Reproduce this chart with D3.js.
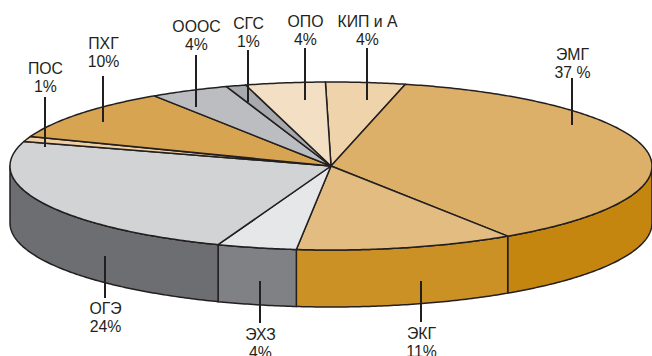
<!DOCTYPE html>
<html>
<head>
<meta charset="utf-8">
<script src="https://cdn.jsdelivr.net/npm/d3@7/dist/d3.min.js"></script>
<style>
html, body { margin: 0; padding: 0; background: #fff; overflow: hidden; }
svg { display: block; }
text { font-family: "Liberation Sans", Arial, sans-serif; font-size: 15.8px; fill: #231f20; text-anchor: middle; }
</style>
</head>
<body>
<svg id="chart" width="652" height="356"></svg>
<script>
// Staff shares by department, clockwise from the top of the disc
const departments = ["КИП и А", "ЭМГ", "ЭКГ", "ЭХЗ", "ОГЭ", "ПОС", "ПХГ", "ОООС", "СГС", "ОПО"];
const shares = [4, 37, 11, 4, 24, 1, 10, 4, 1, 4];
const shareLabels = ["4%", "37 %", "11%", "4%", "24%", "1%", "10%", "4%", "1%", "4%"];

// Fill colours for the top face and the outer wall of each slice
const topColors = ["#efd3ab", "#dcb069", "#e2bc80", "#e6e7e9", "#d1d3d4", "#f0cfa0", "#d7a452", "#bbbdc0", "#a7a9ac", "#f3e0c4"];
const wallColors = ["#c5860f", "#c5860f", "#cb9125", "#808184", "#6d6e71", "#6d6e71", "#6d6e71", "#6d6e71", "#6d6e71", "#6d6e71"];

// Callout placement: leader x, leader top and bottom, first text baseline
const calloutX = [367, 572, 421, 260, 105, 45, 103, 196, 248, 305];
const leaderTop = [48, 78, 281, 281, 256, 97, 76, 55, 50, 48];
const leaderBottom = [100, 125, 322, 323, 298, 147, 122, 107, 102, 100];
const nameBaseline = [27, 60, 339, 340, 314, 74, 49, 32, 29, 27];

const ink = "#231f20";
const svg = d3.select("#chart");

// The disc is a circle seen at a tilt: unit coordinates map onto an ellipse
const x = d3.scaleLinear().domain([-1, 1]).range([10, 652]);
const y = d3.scaleLinear().domain([-1, 1]).range([82, 250]);
const depth = 57;

const startAngle = -Math.PI / 180;
const pie = d3.pie().sort(null).startAngle(startAngle).endAngle(startAngle + 2 * Math.PI);
const slices = pie(shares);

const rim = d3.line()
  .x(a => x(Math.sin(a)))
  .y(a => y(-Math.cos(a)));

const lowerRim = d3.line()
  .x(a => x(Math.sin(a)))
  .y(a => y(-Math.cos(a)) + depth);

// Angles from a to b, sampled finely enough to read as a smooth curve
const sweep = (a, b) => {
  const n = Math.max(2, Math.ceil(Math.abs(b - a) / 0.01));
  return d3.range(n + 1).map(i => a + (b - a) * i / n);
};

// Outer wall: only the front half of the rim faces the viewer
const front = slices
  .map((s, i) => ({
    i,
    a: Math.max(s.startAngle, Math.PI / 2),
    b: Math.min(s.endAngle, 3 * Math.PI / 2)
  }))
  .filter(d => d.b > d.a);

svg.append("g").selectAll("path").data(front).join("path")
  .attr("d", d => rim(sweep(d.a, d.b)) + "L" + lowerRim(sweep(d.b, d.a)).slice(1) + "Z")
  .attr("fill", d => wallColors[d.i])
  .attr("stroke", ink)
  .attr("stroke-width", 1.5)
  .attr("stroke-linejoin", "round");

// Top face
svg.append("g").selectAll("path").data(slices).join("path")
  .attr("d", s => "M" + x(0) + "," + y(0) + "L" + rim(sweep(s.startAngle, s.endAngle)).slice(1) + "Z")
  .attr("fill", (s, i) => topColors[i])
  .attr("stroke", ink)
  .attr("stroke-width", 1.5)
  .attr("stroke-linejoin", "round");

// Leaders
svg.append("g").selectAll("line").data(departments).join("line")
  .attr("x1", (d, i) => calloutX[i])
  .attr("x2", (d, i) => calloutX[i])
  .attr("y1", (d, i) => leaderTop[i])
  .attr("y2", (d, i) => leaderBottom[i])
  .attr("stroke", ink)
  .attr("stroke-width", 2);

// Two-line callouts: department name above its share
const callouts = svg.append("g").selectAll("text").data(departments).join("text")
  .attr("x", (d, i) => calloutX[i] + 0.5)
  .attr("y", (d, i) => nameBaseline[i]);
callouts.append("tspan").text(d => d);
callouts.append("tspan")
  .attr("x", (d, i) => calloutX[i] + 0.5)
  .attr("dy", 18)
  .text((d, i) => shareLabels[i]);
</script>
</body>
</html>
